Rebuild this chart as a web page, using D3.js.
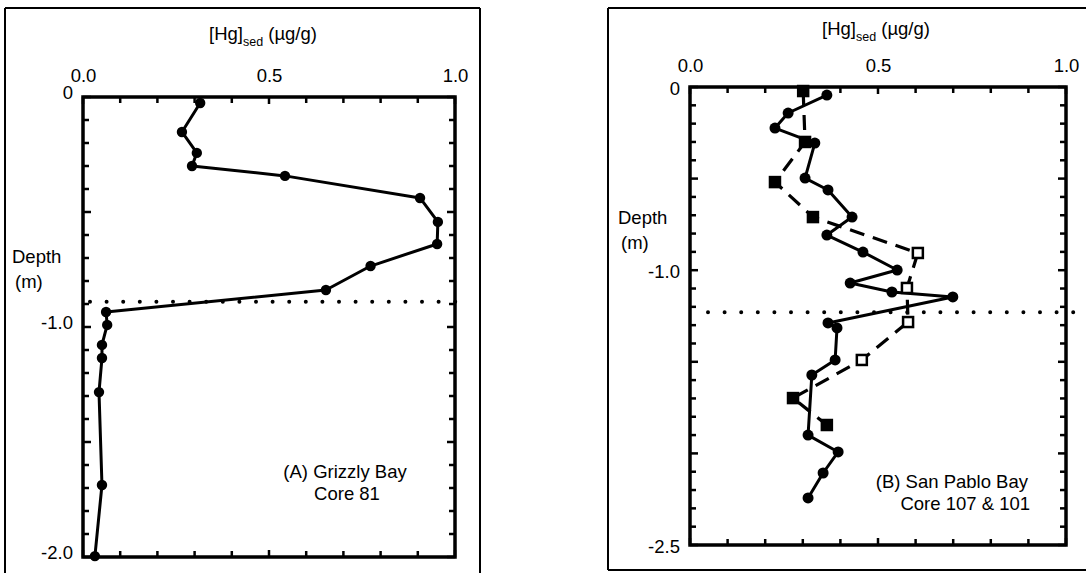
<!DOCTYPE html>
<html><head><meta charset="utf-8">
<script src="https://cdn.jsdelivr.net/npm/d3@7"></script>
<style>
html,body{margin:0;padding:0;background:#fff;}
svg{display:block;font-family:"Liberation Sans",Arial,sans-serif;}
</style></head>
<body>
<svg id="chart" width="1086" height="573"></svg>
<script>
// ---- Data ----
// Panel A: Grizzly Bay, Core 81
const depthA = [-0.026,-0.152,-0.243,-0.30,-0.343,-0.439,-0.543,-0.639,-0.735,-0.839,-0.935,-0.991,-1.078,-1.135,-1.283,-1.687,-1.996];
const hgA    = [0.315,0.266,0.306,0.293,0.543,0.906,0.954,0.952,0.773,0.653,0.062,0.065,0.051,0.051,0.043,0.051,0.032];
const dottedA = -0.89;

// Panel B: San Pablo Bay, Core 107 (solid, circles)
const depthB107 = [-0.044,-0.142,-0.224,-0.306,-0.497,-0.562,-0.710,-0.808,-0.901,-0.999,-1.070,-1.119,-1.146,-1.288,-1.315,-1.490,-1.572,-1.900,-1.992,-2.107,-2.243];
const hgB107    = [0.364,0.261,0.226,0.332,0.306,0.367,0.431,0.364,0.460,0.551,0.426,0.537,0.699,0.367,0.391,0.386,0.324,0.314,0.394,0.354,0.314];
// Core 101 (dashed, squares)
const depthB101 = [-0.022,-0.300,-0.519,-0.710,-0.906,-1.097,-1.283,-1.490,-1.698,-1.845];
const hgB101    = [0.301,0.306,0.226,0.327,0.606,0.577,0.580,0.457,0.274,0.364];
const hollowB101 = [4,5,6,7];
const dottedB = -1.23;

const xTickLabels = [0.0, 0.5, 1.0];
const yTickLabelsA = [0, -1.0, -2.0];
const yTickLabelsB = [0, -1.0, -2.5];
const titleMain = "[Hg]", titleSub = "sed", titleUnit = " (µg/g)";
const labelA = ["(A) Grizzly Bay", "Core 81"];
const labelB = ["(B) San Pablo Bay", "Core 107 & 101"];

// ---- Drawing ----
const svg = d3.select("#chart");
const FS = 18.5;
const fmtY = d => d === 0 ? "0" : d3.format(".1f")(d).replace("\u2212", "-");
const fmtX = d => d3.format(".1f")(d);

function frameBox(x0, y0, x1, y1, bottom) {
  const g = svg.append("g").attr("fill","none").attr("stroke","#000").attr("stroke-width",2);
  g.append("line").attr("x1",x0).attr("y1",y0).attr("x2",x1).attr("y2",y0);
  g.append("line").attr("x1",x0).attr("y1",y0).attr("x2",x0).attr("y2",bottom===null?573:y1);
  if (x1 < 1086) g.append("line").attr("x1",x1).attr("y1",y0).attr("x2",x1).attr("y2",bottom===null?573:y1);
  if (bottom!==null) g.append("line").attr("x1",x0).attr("y1",y1).attr("x2",x1).attr("y2",y1);
}
frameBox(5, 8, 480, 573, null);
frameBox(608, 8, 1090, 570, true);

function panel(cfg) {
  const x = d3.scaleLinear().domain([0,1]).range([cfg.left, cfg.right]);
  const y = d3.scaleLinear().domain([0, cfg.ymin]).range([cfg.top, cfg.bottom]);
  const g = svg.append("g");

  // Tick marks (inward)
  const xt = d3.range(0, 1.0001, 0.1);
  const yt = d3.range(0, cfg.ymin - 0.0001, -0.1);
  const isMajor = v => Math.abs(v*2 - Math.round(v*2)) < 1e-6;
  const tk = g.append("g").attr("stroke","#000").attr("stroke-width",2.5);
  xt.forEach(v => {
    const L = isMajor(v) ? 7 : 6;
    tk.append("line").attr("x1",x(v)).attr("x2",x(v)).attr("y1",cfg.top).attr("y2",cfg.top+L);
    tk.append("line").attr("x1",x(v)).attr("x2",x(v)).attr("y1",cfg.bottom).attr("y2",cfg.bottom-L);
  });
  yt.forEach(v => {
    const L = isMajor(v) ? 8 : 6;
    tk.append("line").attr("y1",y(v)).attr("y2",y(v)).attr("x1",cfg.left).attr("x2",cfg.left+L);
    tk.append("line").attr("y1",y(v)).attr("y2",y(v)).attr("x1",cfg.right).attr("x2",cfg.right-L);
  });

  // Axis labels via d3 axes
  const ax = g.append("g").attr("transform",`translate(0,${cfg.top})`)
    .call(d3.axisTop(x).tickValues(xTickLabels).tickFormat(fmtX).tickSize(0).tickPadding(15));
  ax.select(".domain").remove();
  ax.selectAll("text").attr("font-size",FS).attr("font-family","Liberation Sans, Arial, sans-serif").attr("fill","#000");

  const ay = g.append("g").attr("transform",`translate(${cfg.left},0)`)
    .call(d3.axisLeft(y).tickValues(cfg.yLabels).tickFormat(fmtY).tickSize(0).tickPadding(cfg.yPad));
  ay.select(".domain").remove();
  ay.selectAll("text").attr("font-size",FS).attr("font-family","Liberation Sans, Arial, sans-serif").attr("fill","#000").attr("dy", cfg.yDy);

  // Frame
  g.append("rect").attr("x",cfg.left).attr("y",cfg.top).attr("width",cfg.right-cfg.left).attr("height",cfg.bottom-cfg.top)
    .attr("fill","none").attr("stroke","#000").attr("stroke-width",3.5);

  // Title
  const t = g.append("text").attr("x",cfg.titleX).attr("y",cfg.titleY).attr("text-anchor","middle").attr("font-size",FS);
  t.append("tspan").text(titleMain);
  t.append("tspan").attr("font-size",12.5).attr("dy",6).text(titleSub);
  t.append("tspan").attr("dy",-6).text(titleUnit);

  // Depth label
  g.append("text").attr("x",cfg.depthX).attr("y",cfg.depthY).attr("font-size",FS).text("Depth");
  g.append("text").attr("x",cfg.depthX+3).attr("y",cfg.depthY+25).attr("font-size",FS).text("(m)");

  // Dotted line
  g.append("line").attr("x1",cfg.dotX0).attr("x2",cfg.dotX1).attr("y1",y(cfg.dotted)).attr("y2",y(cfg.dotted))
    .attr("stroke","#000").attr("stroke-width",4).attr("stroke-linecap","round").attr("stroke-dasharray","0,16.6");

  // Annotation
  cfg.label.forEach((s,i) => {
    g.append("text").attr("x",cfg.labelX[i]).attr("y",cfg.labelY+i*22).attr("font-size",FS)
      .attr("text-anchor",cfg.labelAnchor).text(s);
  });
  return {x, y, g};
}

// Panel A
const A = panel({left:83,right:455,top:97,bottom:557,ymin:-2,yLabels:yTickLabelsA,yPad:10,yDy:"0.1em",
  titleX:263,titleY:40,depthX:12,depthY:263,dotted:dottedA,dotX0:90,dotX1:465,
  label:labelA,labelX:[345,347],labelY:478,labelAnchor:"middle"});
const lineA = d3.line().x(d=>A.x(d[1])).y(d=>A.y(d[0]));
const ptsA = depthA.map((d,i)=>[d,hgA[i]]);
A.g.append("path").datum(ptsA).attr("d",lineA).attr("fill","none").attr("stroke","#000").attr("stroke-width",3).attr("stroke-linejoin","round");
A.g.selectAll("circle.pa").data(ptsA).join("circle").attr("class","pa")
  .attr("cx",d=>A.x(d[1])).attr("cy",d=>A.y(d[0])).attr("r",5.2).attr("fill","#000");

// Panel B
const B = panel({left:690,right:1066,top:87,bottom:545,ymin:-2.5,yLabels:yTickLabelsB,yPad:10,yDy:"0.4em",
  titleX:876,titleY:35,depthX:618,depthY:224,dotted:dottedB,dotX0:708,dotX1:1086,
  label:labelB,labelX:[1028,1030],labelY:488,labelAnchor:"end"});
const lineB = d3.line().x(d=>B.x(d[1])).y(d=>B.y(d[0]));
const ptsB101 = depthB101.map((d,i)=>[d,hgB101[i],i]);
const ptsB107 = depthB107.map((d,i)=>[d,hgB107[i]]);
B.g.append("path").datum(ptsB101).attr("d",lineB).attr("fill","none").attr("stroke","#000").attr("stroke-width",3.2)
  .attr("stroke-dasharray","15,9");
B.g.append("path").datum(ptsB107).attr("d",lineB).attr("fill","none").attr("stroke","#000").attr("stroke-width",3).attr("stroke-linejoin","round");
B.g.selectAll("circle.pb").data(ptsB107).join("circle").attr("class","pb")
  .attr("cx",d=>B.x(d[1])).attr("cy",d=>B.y(d[0])).attr("r",5.5).attr("fill","#000");
B.g.selectAll("rect.sq").data(ptsB101).join("rect").attr("class","sq")
  .attr("x",d=>B.x(d[1])-5).attr("y",d=>B.y(d[0])-5).attr("width",10).attr("height",10)
  .attr("fill",d=>hollowB101.includes(d[2])?"#fff":"#000").attr("stroke","#000").attr("stroke-width",2.5);
</script>
</body></html>
